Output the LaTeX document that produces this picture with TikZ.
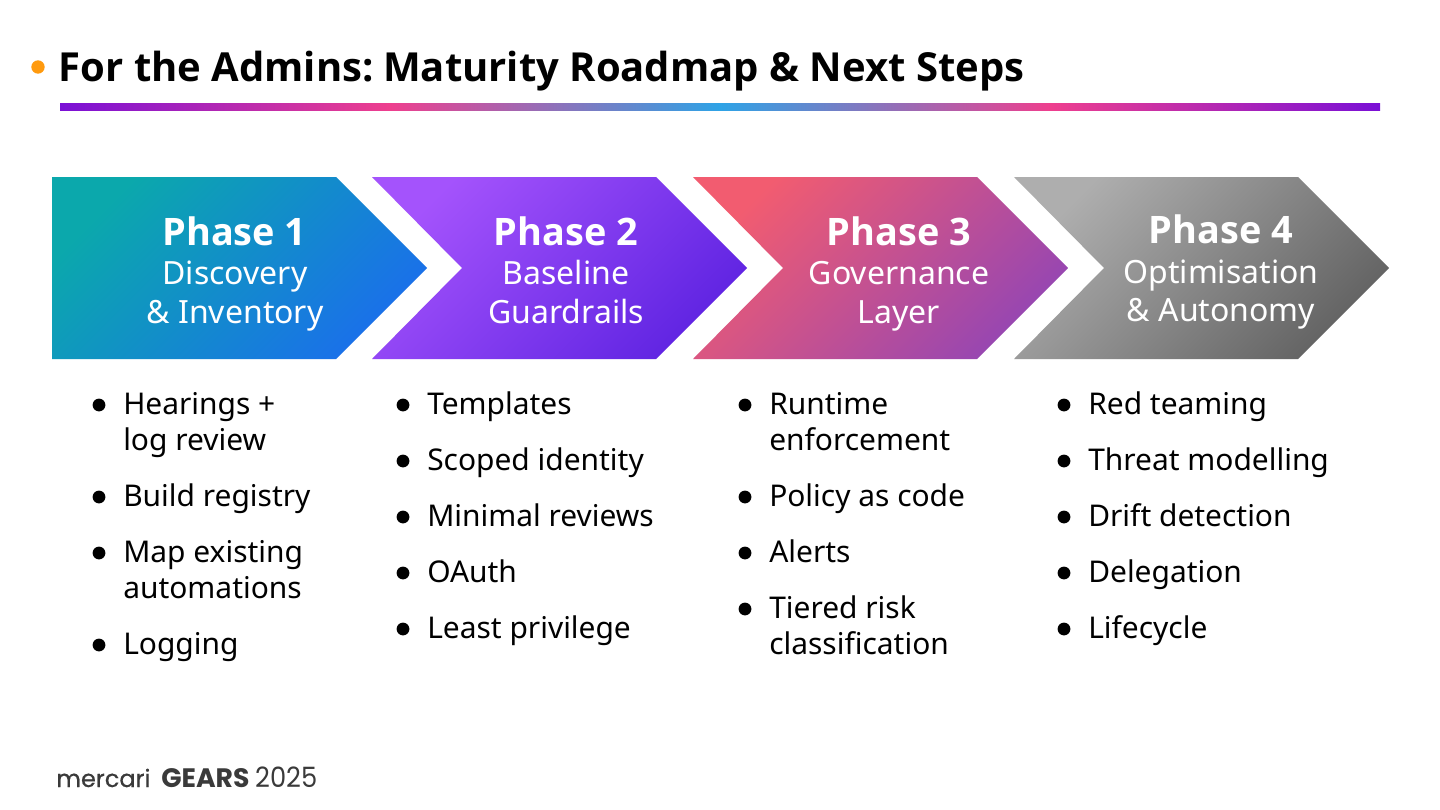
\documentclass[tikz,border=0pt]{standalone}
\usepackage{fontspec}
\setmainfont{Noto Sans}
\newfontfamily\heavyfont{Open Sans}
\newfontfamily\logofont{Poppins}
\newfontfamily\logomed{Poppins}[FakeBold=0.5]
\definecolor{cPurple}{HTML}{7A10D6}
\definecolor{cPink}{HTML}{EE3F8E}
\definecolor{cBlue}{HTML}{2EA3E6}
\definecolor{cOrange}{HTML}{FF9A0E}
\definecolor{aStart}{HTML}{0BA8AC}
\definecolor{aEnd}{HTML}{1A70EA}
\definecolor{bStart}{HTML}{A453FC}
\definecolor{bEnd}{HTML}{6024E2}
\definecolor{cStart}{HTML}{F25C70}
\definecolor{cEnd}{HTML}{9646B2}
\definecolor{dStart}{HTML}{AEAEAE}
\definecolor{dEnd}{HTML}{636363}
\definecolor{logoC}{HTML}{3A3A3A}
\pgfdeclarehorizontalshading{rulegrad}{100bp}{color(0bp)=(cPurple);color(25bp)=(cPurple);color(37.5bp)=(cPink);color(50bp)=(cBlue);color(62.5bp)=(cPink);color(75bp)=(cPurple);color(100bp)=(cPurple)}
\tikzset{
  x=0.75pt,y=-0.75pt,
  phasetitle/.style={text=white,font=\heavyfont\fontsize{28.4}{32}\selectfont\bfseries,anchor=base,inner sep=0pt},
  phasesub/.style={text=white,font=\fontsize{24}{28}\selectfont,anchor=base,inner sep=0pt},
  item/.style={text=black,font=\fontsize{22.45}{27}\selectfont,anchor=base west,inner sep=0pt},
  dotmark/.style={circle,fill=black,inner sep=0pt,minimum size=9.6pt},
}
\newcommand{\chevfill}[6]{%
  \begin{scope}
    \clip (#1,177) -- (#2,177) -- (#3,268) -- (#2,359) -- (#1,359) -- (#4,268) -- cycle;
    \shade[left color=#5,right color=#6,shading angle=45] (#1,177) rectangle (#3,359);
  \end{scope}}
\newcommand{\bul}[4]{%
  \node[dotmark] (d#3) at (#1-24,#2-9) {};
  \node[item] (t#3) at (#1,#2) {#4};}
\begin{document}
\begin{tikzpicture}
\useasboundingbox (0,0) rectangle (1440,810);
\fill[white] (0,0) rectangle (1440,810);
% title
\node[circle,fill=cOrange,inner sep=0pt,minimum size=10pt] (tdot) at (38,67) {};
\node[anchor=base west,inner sep=0pt,font=\heavyfont\fontsize{30}{36}\selectfont\bfseries] (title) at (58.5,81) {For the Admins:\kern-3.2pt{} Maturity Roadmap \& Next Steps};
\shade[shading=rulegrad] (60,103) rectangle (1380,110);
% chevrons
\chevfill{52}{336}{427}{52}{aStart}{aEnd}
\chevfill{372}{656}{747}{462}{bStart}{bEnd}
\chevfill{693}{977}{1068}{783}{cStart}{cEnd}
\chevfill{1014}{1298}{1389}{1104}{dStart}{dEnd}
% chevron text
\node[phasetitle] (p1) at (234.5,245) {Phase 1};
\node[phasesub] (p1a) at (235,284) {Discovery};
\node[phasesub] (p1b) at (235,323) {\& Inventory};
\node[phasetitle] (p2) at (566,245) {Phase 2};
\node[phasesub] (p2a) at (566,284) {Baseline};
\node[phasesub] (p2b) at (566,323) {Guardrails};
\node[phasetitle] (p3) at (899,245) {Phase 3};
\node[phasesub] (p3a) at (899,284) {Governance};
\node[phasesub] (p3b) at (899,323) {Layer};
\node[phasetitle] (p4) at (1221,243) {Phase 4};
\node[phasesub] (p4a) at (1221,283) {Optimisation};
\node[phasesub] (p4b) at (1221,321) {\& Autonomy};
% lists
\bul{123}{414}{a1}{Hearings +}
\node[item] (a1b) at (123,450) {log review};
\bul{123}{506}{a2}{Build registry}
\bul{123}{562}{a3}{Map existing}
\node[item] (a3b) at (123,598) {automations};
\bul{123}{654}{a4}{Logging}
\bul{427}{414}{b1}{Templates}
\bul{427}{470}{b2}{Scoped identity}
\bul{427}{526}{b3}{Minimal reviews}
\bul{427}{582}{b4}{OAuth}
\bul{427}{638}{b5}{Least privilege}
\bul{769}{414}{c1}{Runtime}
\node[item] (c1b) at (769,450) {enforcement};
\bul{769}{506}{c2}{Policy as code}
\bul{769}{562}{c3}{Alerts}
\bul{769}{618}{c4}{Tiered risk}
\node[item] (c4b) at (769,654) {classification};
\bul{1088}{414}{d1}{Red teaming}
\bul{1088}{470}{d2}{Threat modelling}
\bul{1088}{526}{d3}{Drift detection}
\bul{1088}{582}{d4}{Delegation}
\bul{1088}{638}{d5}{Lifecycle}
% logo
\node[anchor=base west,inner sep=0pt,text=logoC,font=\logomed\fontsize{18}{22}\selectfont] (lg1) at (56,787) {mercari};
\node[anchor=base west,inner sep=0pt,text=logoC,font=\logofont\fontsize{20}{24}\selectfont\bfseries] (lg2) at (161,787) {GEARS};
\node[anchor=base west,inner sep=0pt,text=logoC,xscale=0.92,font=\logofont\fontsize{21}{24}\selectfont] (lg3) at (255,787) {2025};
\end{tikzpicture}
\end{document}
